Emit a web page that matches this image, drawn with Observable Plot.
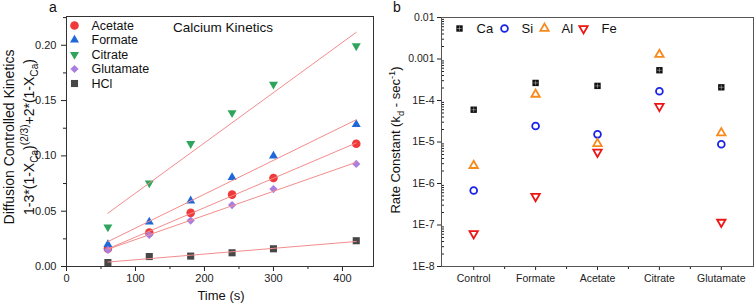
<!DOCTYPE html>
<html><head><meta charset="utf-8">
<script src="https://cdn.jsdelivr.net/npm/d3@7"></script>
<script src="https://cdn.jsdelivr.net/npm/@observablehq/plot@0.6"></script>
<style>
body{margin:0;background:#fff;font-family:"Liberation Sans",Arial,sans-serif;}
#wrap{position:relative;width:756px;height:308px;overflow:hidden;}
#a,#b{position:absolute;top:0;}
#a{left:0px} #b{left:380px}
svg{overflow:visible}
</style></head><body><div id="wrap"><div id="a"></div><div id="b"></div></div>
<script>
// ---------- Panel a data ----------
const times = [60, 120, 180, 240, 300, 420];
const acetate   = [0.016, 0.0306, 0.0485, 0.065, 0.080, 0.111];
const formate   = [0.020, 0.0403, 0.0594, 0.0806, 0.100, 0.1285];
const citrate   = [0.0356, 0.0754, 0.111, 0.139, 0.1647, 0.1994];
const glutamate = [0.015, 0.0285, 0.0415, 0.0555, 0.070, 0.0927];
const hcl       = [0.0036, 0.009, 0.0094, 0.0124, 0.016, 0.0233];
const seriesA = ["Acetate", "Formate", "Citrate", "Glutamate", "HCl"];
const seriesLabelsA = ["Acetate", "Formate", "Citrate", "Glutamate", "HCl"];
const xTicksA = [0, 100, 200, 300, 400];
const xMinorA = [50, 150, 250, 350];
const yTicksA = [0, 0.05, 0.10, 0.15, 0.20];
const yMinorA = [0.025, 0.075, 0.125, 0.175, 0.225];

// ---------- Panel b data ----------
const treatments = ["Control", "Formate", "Acetate", "Citrate", "Glutamate"];
const ca = [6.0e-5, 2.65e-4, 2.25e-4, 5.36e-4, 2.08e-4];
const si = [6.8e-7, 2.43e-5, 1.53e-5, 1.67e-4, 8.8e-6];
const al = [2.7e-6, 1.41e-4, 9.1e-6, 1.28e-3, 1.65e-5];
const fe = [6.2e-8, 4.9e-7, 5.7e-6, 7.26e-5, 1.17e-7];
const elements = ["Ca", "Si", "Al", "Fe"];
const yTicksB = [1e-8, 1e-7, 1e-6, 1e-5, 1e-4, 1e-3, 1e-2];
const yTickLabelsB = ["1E-8", "1E-7", "1E-6", "1E-5", "1E-4", "0.001", "0.01"];

// ---------- symbols ----------
const triUp = {draw(c, size){const s=Math.sqrt(size)*0.6824,t=s/2,u=s*Math.sqrt(3)/2;c.moveTo(0,-s);c.lineTo(u,t);c.lineTo(-u,t);c.closePath();}};
const triDown = {draw(c, size){const s=Math.sqrt(size)*0.6824,t=s/2,u=s*Math.sqrt(3)/2;c.moveTo(0,s);c.lineTo(-u,-t);c.lineTo(u,-t);c.closePath();}};
const diamond = {draw(c, size){const r=Math.sqrt(size)*0.62625;c.moveTo(0,-r);c.lineTo(r,0);c.lineTo(0,r);c.lineTo(-r,0);c.closePath();}};

const FONT = "Liberation Sans, Arial, sans-serif";

// ---------- Panel a ----------
const valsA = {Acetate: acetate, Formate: formate, Citrate: citrate, Glutamate: glutamate, HCl: hcl};
const dataA = seriesA.flatMap(s => times.map((t, i) => ({s, t, v: valsA[s][i]})));
const colorsA = {Acetate: "#f03a3a", Formate: "#1f68d8", Citrate: "#2fa45c", Glutamate: "#a97ee0", HCl: "#474747"};
const symA = {Acetate: "circle", Formate: triUp, Citrate: triDown, Glutamate: diamond, HCl: "square"};
const rA = {Acetate: 4.3, Formate: 4.3, Citrate: 4.3, Glutamate: 3.7, HCl: 4.0};

const plotA = Plot.plot({
  width: 380, height: 308,
  marginLeft: 66, marginRight: 7, marginTop: 16, marginBottom: 42,
  style: {fontFamily: FONT, fontSize: "11px", color: "#222", background: "white"},
  x: {domain: [0, 445]},
  y: {domain: [0, 0.226]},
  marks: [
    Plot.axisX({ticks: xTicksA, tickSize: 5, tickPadding: 3, label: null}),
    Plot.axisX({ticks: xMinorA, tickSize: 3, tickFormat: () => "", label: null}),
    Plot.axisY({ticks: yTicksA, tickSize: 5, tickPadding: 5, tickFormat: d3.format(".2f"), label: null}),
    Plot.axisY({ticks: yMinorA, tickSize: 3, tickFormat: () => "", label: null}),
    ...seriesA.map(s => Plot.dot(dataA.filter(d => d.s === s), {x: "t", y: "v", symbol: symA[s], fill: colorsA[s], r: rA[s]})),
    Plot.linearRegressionY(dataA, {x: "t", y: "v", z: "s", stroke: "#f38c8c", strokeWidth: 1, ci: 0}),
    ...seriesA.map((s, i) => Plot.dot([s], {frameAnchor: "top-left", dx: 8, dy: 9 + i * 14.5, symbol: symA[s], fill: colorsA[s], r: rA[s]})),
    ...seriesA.map((s, i) => Plot.text([seriesLabelsA[i]], {frameAnchor: "top-left", dx: 25, dy: 9 + i * 14.5, text: d => d, textAnchor: "start", lineAnchor: "middle", fontSize: 12.5, fill: "#111"})),
    Plot.text(["Calcium Kinetics"], {frameAnchor: "top", dx: 3, dy: 11, text: d => d, lineAnchor: "middle", fontSize: 13.5, fill: "#111"}),
    Plot.frame({stroke: "#333"})
  ]
});
document.getElementById("a").appendChild(plotA);

// ---------- Panel b ----------
const valsB = {Ca: ca, Si: si, Al: al, Fe: fe};
const dataB = elements.flatMap(e => treatments.map((t, i) => ({e, i, v: valsB[e][i]})));
const styleB = {
  Ca: {symbol: "square", fill: "#111", stroke: "none", r: 3.6},
  Si: {symbol: "circle", fill: "white", stroke: "#1a22e8", strokeWidth: 1.8, r: 3.4},
  Al: {symbol: triUp, fill: "white", stroke: "#f88a1c", strokeWidth: 1.8, r: 4.0},
  Fe: {symbol: triDown, fill: "white", stroke: "#ee1515", strokeWidth: 1.8, r: 4.0}
};
const yMinorB = d3.range(-8, -2).flatMap(k => d3.range(2, 10).map(m => m * Math.pow(10, k)));
const labelB = d => yTickLabelsB[yTicksB.findIndex(t => Math.abs(Math.log10(t) - Math.log10(d)) < 1e-6)];
const legendDotX = [18, 63, 103, 142];
const legendTextX = [35, 80, 120, 160];
const caCross = {symbol: "plus", stroke: "#bbb", strokeWidth: 0.6, r: 1.6};

const plotB = Plot.plot({
  width: 376, height: 308,
  marginLeft: 61, marginRight: 3, marginTop: 17, marginBottom: 42,
  style: {fontFamily: FONT, fontSize: "10.5px", color: "#222", background: "white"},
  x: {type: "linear", domain: [-0.52, 4.52]},
  y: {type: "log", domain: [1e-8, 1e-2]},
  marks: [
    Plot.axisX({ticks: [0, 1, 2, 3, 4], tickFormat: i => treatments[i], tickSize: 4, tickPadding: 4, label: null}),
    Plot.axisX({ticks: [0.5, 1.5, 2.5, 3.5], tickSize: 3, tickFormat: () => "", label: null}),
    Plot.axisY({ticks: yTicksB, tickFormat: labelB, tickSize: 4, tickPadding: 3, label: null}),
    Plot.axisY({ticks: yMinorB, tickSize: -3, tickFormat: () => "", label: null}),
    ...elements.map(e => Plot.dot(dataB.filter(d => d.e === e), {x: "i", y: "v", ...styleB[e]})),
    Plot.dot(dataB.filter(d => d.e === "Ca"), {x: "i", y: "v", ...caCross}),
    ...elements.map((e, k) => Plot.dot([e], {frameAnchor: "top-left", dx: legendDotX[k], dy: 11, ...styleB[e]})),
    Plot.dot(["Ca"], {frameAnchor: "top-left", dx: legendDotX[0], dy: 11, ...caCross}),
    ...elements.map((e, k) => Plot.text([e], {frameAnchor: "top-left", dx: legendTextX[k], dy: 11, text: d => d, textAnchor: "start", lineAnchor: "middle", fontSize: 13, fill: "#111"})),
    Plot.frame({stroke: "#555"})
  ]
});
document.getElementById("b").appendChild(plotB);

// ---------- extra texts: panel labels and axis titles ----------
function addText(svgNode, x, y, parts, {size = 14, rotate = 0, anchor = "middle"} = {}) {
  const svg = d3.select(svgNode);
  const t = svg.append("text")
    .attr("transform", `translate(${x},${y}) rotate(${rotate})`)
    .attr("text-anchor", anchor)
    .attr("font-family", FONT)
    .attr("font-size", size)
    .attr("fill", "#111");
  let shift = 0;
  for (const p of parts) {
    const span = t.append("tspan").text(p.t);
    const target = p.sub ? size * 0.3 : p.sup ? -size * 0.4 : 0;
    if (target !== shift) { span.attr("dy", target - shift); shift = target; }
    if (p.sub || p.sup) span.attr("font-size", size * 0.72);
  }
  return t;
}
addText(plotA, 53, 12, [{t: "a"}], {size: 14});
addText(plotA, 13.5, 137, [{t: "Diffusion Controlled Kinetics"}], {size: 14, rotate: -90});
addText(plotA, 33.5, 137, [
  {t: "1-3*(1-X"}, {t: "Ca", sub: true}, {t: ")"}, {t: "(2/3)", sup: true},
  {t: "+2*(1-X"}, {t: "Ca", sub: true}, {t: ")"}
], {size: 14, rotate: -90});
addText(plotA, 221, 300, [{t: "Time (s)"}], {size: 13});

addText(plotB, 17, 12, [{t: "b"}], {size: 14});
addText(plotB, 20, 140, [
  {t: "Rate Constant (k"}, {t: "d", sub: true}, {t: " - sec"}, {t: "-1", sup: true}, {t: ")"}
], {size: 13, rotate: -90});
</script>
</body></html>
